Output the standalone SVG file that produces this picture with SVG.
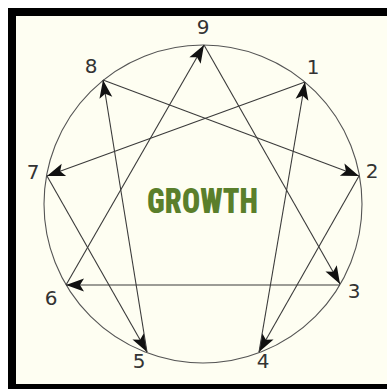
<svg xmlns="http://www.w3.org/2000/svg" width="387" height="389" viewBox="0 0 387 389">
<style>
.lbl{font-family:"DejaVu Sans","Verdana",sans-serif;font-size:20px;fill:#333;text-anchor:middle}
.edge{stroke:#3a3a3a;stroke-width:1.1;fill:none;marker-end:url(#ah)}
.ring{stroke:#555;stroke-width:1.1;fill:none}
.title{font-family:"Roboto Condensed","Liberation Sans Narrow","Liberation Sans",sans-serif;font-weight:900;font-size:35px;fill:#5a7f2b}
</style>
<defs>
<marker id="ah" viewBox="-19 -7 20 14" refX="0" refY="0" markerWidth="20" markerHeight="14" markerUnits="userSpaceOnUse" orient="auto">
<path d="M0,0 L-18,-6.5 L-14,0 L-18,6.5 Z" fill="#111"/>
</marker>
</defs>
<rect x="0" y="0" width="387" height="389" fill="#ffffff"/>
<rect x="8" y="8" width="379" height="381" fill="#000"/>
<rect x="16" y="16" width="371" height="368" fill="#fefef2"/>
<circle class="ring" cx="203" cy="204" r="159"/>
<g id="connectors">
<line class="edge" x1="204" y1="45" x2="340" y2="284"/>
<line class="edge" x1="340" y1="285" x2="66" y2="285"/>
<line class="edge" x1="66" y1="285" x2="204" y2="45"/>
<line class="edge" x1="305" y1="82" x2="47" y2="176"/>
<line class="edge" x1="47" y1="176" x2="147" y2="352"/>
<line class="edge" x1="147" y1="352" x2="103" y2="80"/>
<line class="edge" x1="103" y1="80" x2="359" y2="176"/>
<line class="edge" x1="359" y1="176" x2="259" y2="352"/>
<line class="edge" x1="259" y1="352" x2="305" y2="82"/>
</g>
<g id="n9"><text class="lbl" x="203" y="34">9</text></g>
<g id="n1"><text class="lbl" x="313" y="74">1</text></g>
<g id="n2"><text class="lbl" x="372" y="178">2</text></g>
<g id="n3"><text class="lbl" x="354" y="298">3</text></g>
<g id="n4"><text class="lbl" x="263" y="368">4</text></g>
<g id="n5"><text class="lbl" x="139" y="368">5</text></g>
<g id="n6"><text class="lbl" x="51" y="305">6</text></g>
<g id="n7"><text class="lbl" x="33" y="179">7</text></g>
<g id="n8"><text class="lbl" x="91" y="73">8</text></g>
<g id="title"><text class="title" x="147" y="213" textLength="111" lengthAdjust="spacingAndGlyphs">GROWTH</text></g>
</svg>
